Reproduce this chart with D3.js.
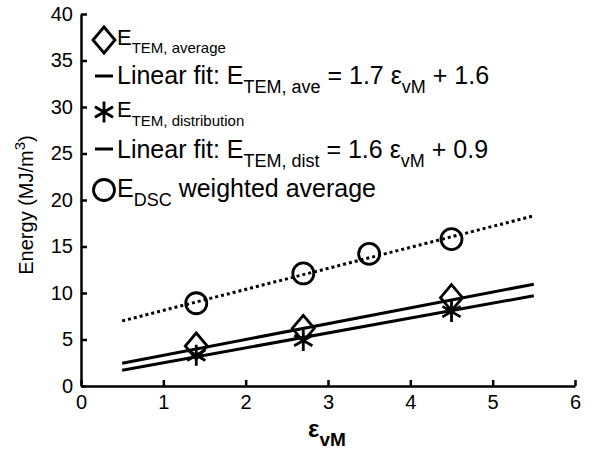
<!DOCTYPE html>
<html lang="en">

<head>
    <meta charset="UTF-8">
    <script src="https://d3js.org/d3.v7.min.js"></script>
    <title>Energy vs strain</title>
    <style>
        body { margin: 0; background: #fff; }
        svg { display: block; font-family: "Liberation Sans", Arial, sans-serif; }
        .axis path, .axis line { stroke: #000; stroke-width: 2.5; }
        .axis text { font-size: 20px; fill: #000; font-family: "Liberation Sans", Arial, sans-serif; }
        .legend text { font-size: 25px; fill: #000; }
    </style>
</head>

<body>
    <div id="chart"></div>
    <script>
        // Data
        const strainTEM = [1.4, 2.7, 4.5];
        const energyTEMave = [4.3, 6.2, 9.5];
        const energyTEMdist = [3.3, 4.9, 8.0];
        const strainDSC = [1.4, 2.7, 3.5, 4.5];
        const energyDSC = [8.9, 12.1, 14.2, 15.8];

        // fit lines (slope, intercept) and drawn x-range
        const fitRange = [0.5, 5.5];
        const fitAve = [1.7, 1.6];
        const fitDist = [1.6, 0.9];
        const fitDSC = [2.26, 5.87];

        const xTicks = [0, 1, 2, 3, 4, 5, 6];
        const yTicks = [0, 5, 10, 15, 20, 25, 30, 35, 40];

        const width = 613;
        const height = 462;

        const svg = d3.select("#chart")
            .append("svg")
            .attr("width", width)
            .attr("height", height);

        const x = d3.scaleLinear().domain([0, 6]).range([81, 575]);
        const y = d3.scaleLinear().domain([0, 40]).range([386, 14]);

        // axes (ticks point inward, matlab style)
        svg.append("g")
            .attr("class", "axis")
            .attr("transform", `translate(0,${y(0)})`)
            .call(d3.axisBottom(x).tickValues(xTicks).tickFormat(d3.format("d"))
                .tickSizeInner(-6).tickSizeOuter(0).tickPadding(9));

        svg.append("g")
            .attr("class", "axis")
            .attr("transform", `translate(${x(0)},0)`)
            .call(d3.axisLeft(y).tickValues(yTicks).tickFormat(d3.format("d"))
                .tickSizeInner(-6).tickSizeOuter(0).tickPadding(8));

        // fit lines
        const line = d3.line().x(d => x(d[0])).y(d => y(d[1]));
        const fitPts = f => fitRange.map(v => [v, f[0] * v + f[1]]);

        svg.append("path").attr("d", line(fitPts(fitAve)))
            .attr("fill", "none").attr("stroke", "#000").attr("stroke-width", 3);
        svg.append("path").attr("d", line(fitPts(fitDist)))
            .attr("fill", "none").attr("stroke", "#000").attr("stroke-width", 3);
        svg.append("path").attr("d", line(fitPts(fitDSC)))
            .attr("fill", "none").attr("stroke", "#000").attr("stroke-width", 3)
            .attr("stroke-dasharray", "3,3");

        // marker shapes
        const diamond = (cx, cy) => `M${cx},${cy - 13}L${cx + 11},${cy}L${cx},${cy + 13}L${cx - 11},${cy}Z`;
        const asterisk = (cx, cy) => {
            const r = 10.5, t = r / 2, u = t * Math.sqrt(3);
            return `M${cx},${cy - r}L${cx},${cy + r}M${cx - u},${cy - t}L${cx + u},${cy + t}M${cx - u},${cy + t}L${cx + u},${cy - t}`;
        };

        const markerStyle = s => s.attr("fill", "none").attr("stroke", "#000").attr("stroke-width", 2.8);

        svg.selectAll(".dsc")
            .data(strainDSC)
            .enter()
            .append("circle")
            .attr("class", "dsc")
            .attr("cx", d => x(d))
            .attr("cy", (d, i) => y(energyDSC[i]))
            .attr("r", 10.5)
            .call(markerStyle);

        svg.selectAll(".ave")
            .data(strainTEM)
            .enter()
            .append("path")
            .attr("class", "ave")
            .attr("d", (d, i) => diamond(x(d), y(energyTEMave[i])))
            .call(markerStyle);

        svg.selectAll(".dist")
            .data(strainTEM)
            .enter()
            .append("path")
            .attr("class", "dist")
            .attr("d", (d, i) => asterisk(x(d), y(energyTEMdist[i])))
            .call(markerStyle);

        // legend
        const legend = svg.append("g").attr("class", "legend");
        const lx = 104;
        const rows = [40, 76, 112, 149, 190];

        legend.append("path").attr("d", diamond(lx, rows[0])).call(markerStyle);
        legend.append("line").attr("x1", lx - 9).attr("x2", lx + 9)
            .attr("y1", rows[1]).attr("y2", rows[1]).attr("stroke", "#000").attr("stroke-width", 3);
        legend.append("path").attr("d", asterisk(lx, rows[2])).call(markerStyle);
        legend.append("line").attr("x1", lx - 9).attr("x2", lx + 9)
            .attr("y1", rows[3]).attr("y2", rows[3]).attr("stroke", "#000").attr("stroke-width", 3);
        legend.append("circle").attr("cx", lx).attr("cy", rows[4]).attr("r", 10.5).call(markerStyle);

        const sub = (t, s, size, dy) => t.append("tspan").attr("font-size", size).attr("dy", dy).text(s);
        const up = (t, s, dy) => t.append("tspan").attr("dy", -dy).text(s);

        let t = legend.append("text").attr("x", 117).attr("y", rows[0] + 5);
        t.append("tspan").attr("font-size", 22).text("E");
        sub(t, "TEM, average", 15, 8);

        t = legend.append("text").attr("x", 117).attr("y", rows[1] + 8);
        t.append("tspan").text("Linear fit: E");
        sub(t, "TEM, ave", 18, 9);
        up(t, ` = ${fitAve[0]} ε`, 9);
        sub(t, "vM", 18, 9);
        up(t, ` + ${fitAve[1]}`, 9);

        t = legend.append("text").attr("x", 117).attr("y", rows[2] + 5);
        t.append("tspan").attr("font-size", 22).text("E");
        sub(t, "TEM, distribution", 15, 9);

        t = legend.append("text").attr("x", 117).attr("y", rows[3] + 9);
        t.append("tspan").text("Linear fit: E");
        sub(t, "TEM, dist", 18, 9);
        up(t, ` = ${fitDist[0]} ε`, 9);
        sub(t, "vM", 18, 9);
        up(t, ` + ${fitDist[1]}`, 9);

        t = legend.append("text").attr("x", 117).attr("y", rows[4] + 7);
        t.append("tspan").text("E");
        sub(t, "DSC", 18, 9);
        up(t, " weighted average", 9);

        // axis titles
        const xl = svg.append("text")
            .attr("x", 308).attr("y", 437)
            .attr("font-weight", "bold").attr("font-size", 24);
        xl.append("tspan").text("ε");
        xl.append("tspan").attr("font-size", 19).attr("dy", 9).text("vM");

        const yl = svg.append("text")
            .attr("transform", "translate(33,205) rotate(-90)")
            .attr("text-anchor", "middle")
            .attr("font-size", 20);
        yl.append("tspan").text("Energy (MJ/m");
        yl.append("tspan").attr("font-size", 15).attr("dy", -8).text("3");
        yl.append("tspan").attr("dy", 8).text(")");
    </script>
</body>

</html>
